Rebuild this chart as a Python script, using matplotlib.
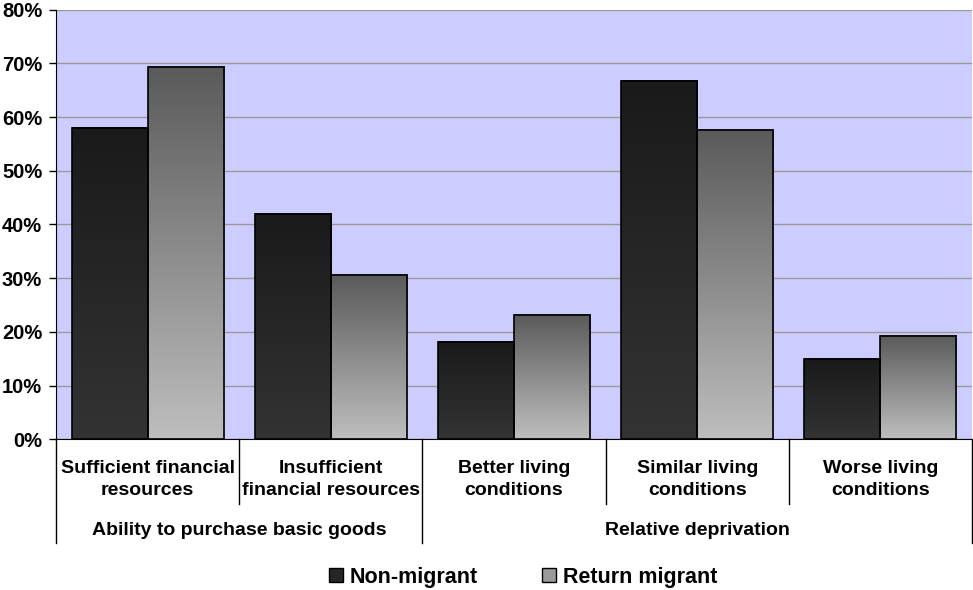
import numpy as np
import matplotlib
matplotlib.use("Agg")
import matplotlib.pyplot as plt
from matplotlib.patches import Patch
from matplotlib.colors import LinearSegmentedColormap

categories = ["Sufficient financial\nresources", "Insufficient\nfinancial resources",
              "Better living\nconditions", "Similar living\nconditions", "Worse living\nconditions"]
groups = ["Ability to purchase basic goods", "Relative deprivation"]
group_spans = [(0, 1), (2, 4)]
non_migrant = [58.0, 42.0, 18.1, 66.8, 15.0]
return_migrant = [69.3, 30.6, 23.2, 57.6, 19.2]
yticks = [0, 10, 20, 30, 40, 50, 60, 70, 80]

plt.rcParams["font.family"] = ["Liberation Sans", "DejaVu Sans"]
plt.rcParams["font.weight"] = "bold"

fig = plt.figure(figsize=(9.73, 5.90), dpi=100)
ax = fig.add_axes([0.0576, 0.2554, 0.9414, 0.7283])
ax.set_facecolor("#ccccff")

# pixel helper for text below the axis (axes fraction)
def fy(ypx):
    return (439.3 - ypx) / 429.7

cm_nm = LinearSegmentedColormap.from_list("nm", ["#333333", "#1a1a1a"])
cm_rm = LinearSegmentedColormap.from_list("rm", ["#bebebe", "#5a5a5a"])
grad = np.linspace(0, 1, 256).reshape(-1, 1)

w = 0.415
x = np.arange(len(categories))
for series, offs, cmap in [(non_migrant, -w / 2, cm_nm), (return_migrant, w / 2, cm_rm)]:
    bars = ax.bar(x + offs, series, width=w, facecolor="none", edgecolor="black",
                  linewidth=1.2, zorder=4)
    for b in bars:
        x0, x1 = b.get_x(), b.get_x() + b.get_width()
        ax.imshow(grad, cmap=cmap, origin="lower", aspect="auto",
                  extent=(x0, x1, 0, b.get_height()), zorder=3, interpolation="bilinear")

ax.set_xlim(-0.5, len(categories) - 0.5)
ax.set_ylim(0, 80)
ax.set_yticks(yticks)
ax.set_yticklabels([f"{t}%" for t in yticks], fontsize=14.5, fontweight="bold")
ax.yaxis.grid(True, color="#999999", linewidth=1)
ax.set_axisbelow(True)
ax.tick_params(axis="y", direction="out", length=5, width=1, pad=5)
ax.set_xticks([])
for s in ["top", "right"]:
    ax.spines[s].set_visible(False)
ax.spines["left"].set_color("black")
ax.spines["bottom"].set_color("black")
ax.spines["bottom"].set_zorder(5)

trans = ax.get_xaxis_transform()
for i, lab in enumerate(categories):
    ax.text(i, fy(479.5), lab, transform=trans, ha="center", va="center",
            fontsize=14, fontweight="bold", linespacing=1.45)

group_edges = [-0.5, 1.5, 4.5]
for b in np.arange(-0.5, len(categories)):
    end = fy(543) if b in group_edges else fy(504)
    ax.plot([b, b], [0, end], transform=trans, color="black", linewidth=1, clip_on=False)

for (a, c), g in zip(group_spans, groups):
    ax.text((a + c) / 2, fy(530), g, transform=trans, ha="center", va="center",
            fontsize=14, fontweight="bold")

handles = [Patch(facecolor="#262626", edgecolor="black", label="Non-migrant"),
           Patch(facecolor="#9a9a9a", edgecolor="black", label="Return migrant")]
fig.legend(handles=handles, loc="center", bbox_to_anchor=(0.5375, 1 - 577 / 590), ncol=2,
           frameon=False, prop={"size": 15.5, "weight": "bold"}, handlelength=0.65,
           handleheight=0.65, handletextpad=0.3, columnspacing=3.0)

fig.savefig("out.png", dpi=100)
